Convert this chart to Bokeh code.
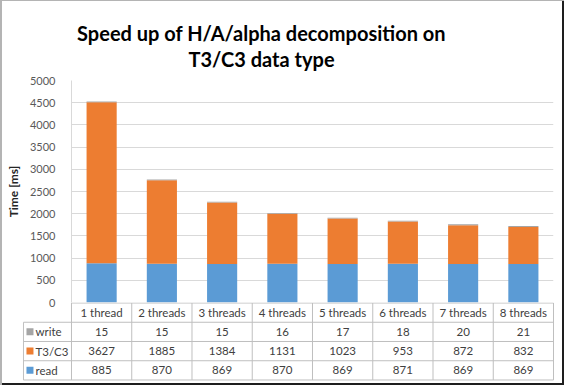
from bokeh.plotting import figure
from bokeh.models import Range1d, FixedTicker, ColumnDataSource
from bokeh.layouts import column
from bokeh.embed import file_html
from bokeh.resources import INLINE
from bokeh.core.properties import value

categories = ["1 thread", "2 threads", "3 threads", "4 threads",
              "5 threads", "6 threads", "7 threads", "8 threads"]
read = [885, 870, 869, 870, 869, 871, 869, 869]
t3c3 = [3627, 1885, 1384, 1131, 1023, 953, 872, 832]
write = [15, 15, 15, 16, 17, 18, 20, 21]
series_names = ["write", "T3/C3", "read"]
yticks = [0, 500, 1000, 1500, 2000, 2500, 3000, 3500, 4000, 4500, 5000]
title_lines = ["Speed up of H/A/alpha decomposition on", "T3/C3 data type"]

COL = {"read": "#5B9BD5", "T3/C3": "#ED7D31", "write": "#A5A5A5"}
FONT = "Lato"
W = 564
HH = 78
n = len(categories)
xs = [i + 0.5 for i in range(n)]


def clear(fig):
    fig.outline_line_color = None
    fig.background_fill_alpha = 0
    fig.border_fill_alpha = 0
    fig.frame_align = False


# ---------------- header (title) ----------------
h = figure(width=W, height=HH, output_backend="svg", toolbar_location=None,
           x_axis_type=None, y_axis_type=None,
           x_range=Range1d(0, W), y_range=Range1d(0, HH),
           min_border_left=0, min_border_right=0, min_border_top=0,
           min_border_bottom=0)
clear(h)
h.grid.visible = False
h.text(x=[261, 261], y=[HH - 32, HH - 58], text=title_lines, text_align="center",
       text_baseline="alphabetic", text_font=value(FONT),
       text_font_size="20px", text_font_style="bold", text_color="#000000")

# ---------------- main chart ----------------
p = figure(width=W, height=240, output_backend="svg", toolbar_location=None,
           x_axis_type=None,
           x_range=Range1d(0, n), y_range=Range1d(0, 5000),
           min_border_left=71, min_border_right=W - 553, min_border_top=10,
           min_border_bottom=8, margin=(-8, 0, 0, 0))
clear(p)
p.xgrid.visible = False
p.ygrid.grid_line_color = "#D9D9D9"
p.yaxis.ticker = FixedTicker(ticks=yticks)
p.yaxis.axis_line_color = "#D9D9D9"
p.yaxis.major_tick_line_color = None
p.yaxis.minor_tick_line_color = None
p.yaxis.major_label_text_font = FONT
p.yaxis.major_label_text_font_size = "11px"
p.yaxis.major_label_text_color = "#595959"
p.yaxis.major_label_standoff = 10
p.yaxis.axis_label = "Time [ms]"
p.yaxis.axis_label_text_font = FONT
p.yaxis.axis_label_text_font_size = "12px"
p.yaxis.axis_label_text_font_style = "bold"
p.yaxis.axis_label_text_color = "#262626"
p.yaxis.axis_label_standoff = 6

src = ColumnDataSource(dict(x=xs, read=read, t3c3=t3c3, write=write))
p.vbar_stack(["read", "t3c3", "write"], x="x", width=0.5, source=src,
             color=[COL["read"], COL["T3/C3"], COL["write"]], line_color=None)

# ---------------- data table ----------------
t = figure(width=W, height=83, output_backend="svg", toolbar_location=None,
           x_axis_type=None, y_axis_type=None,
           x_range=Range1d(-0.813, n + 0.033), y_range=Range1d(-0.078, 4.026),
           min_border_left=22, min_border_right=W - 555, min_border_top=0,
           min_border_bottom=4, margin=(-8, 0, 0, 0))
clear(t)
t.grid.visible = False

leg_x = -0.797
hx0 = [0] + [leg_x] * 4
hy = [4, 3, 2, 1, 0]
t.segment(x0=hx0, y0=hy, x1=[n] * 5, y1=hy, line_color="#BFBFBF", line_width=1)
vx = [leg_x] + list(range(n + 1))
vy1 = [3] + [4] * (n + 1)
t.segment(x0=vx, y0=[0] * len(vx), x1=vx, y1=vy1, line_color="#BFBFBF", line_width=1)

t.text(x=xs, y=[3.5] * n, text=categories, text_align="center",
       text_baseline="middle", text_font=value(FONT), text_font_size="11.5px",
       text_color="#404040")
rows = {"write": write, "T3/C3": t3c3, "read": read}
for k, name in enumerate(series_names):
    yrow = 2.5 - k
    t.text(x=xs, y=[yrow] * n, text=[str(v) for v in rows[name]],
           text_align="center", text_baseline="middle", text_font=value(FONT),
           text_font_size="11.5px", text_color="#404040")
    t.scatter(x=[-0.689], y=[yrow], marker="square", size=7,
              fill_color=COL[name], line_color=None)
    t.text(x=[-0.598], y=[yrow], text=[name], text_align="left",
           text_baseline="middle", text_font=value(FONT),
           text_font_size="11.5px", text_color="#404040")

layout = column(h, p, t, spacing=0,
                styles={"box-shadow": "inset 2px 1px 0 #B4B4B4, inset -2px -2px 0 #1E1E1E"})
open("out.html", "w").write(file_html(layout, INLINE))
